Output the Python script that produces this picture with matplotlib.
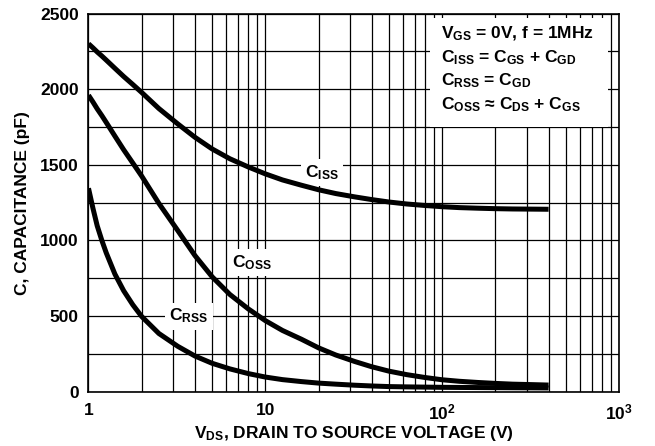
import matplotlib
matplotlib.use("Agg")
import matplotlib.pyplot as plt
from matplotlib.ticker import MultipleLocator, FixedLocator, FixedFormatter, NullFormatter, LogLocator
from matplotlib.patches import Rectangle

# values (pF vs V)
v_ds = [1, 1.06, 1.12, 1.19, 1.26, 1.41, 1.58, 1.78, 2, 2.5, 3.2, 4, 5, 6.3, 8, 10,
        12.5, 16, 20, 25, 32, 40, 50, 63, 80, 100, 125, 160, 200, 250, 320, 400]
c_iss = [2300, 2273, 2246, 2219, 2192, 2138, 2084, 2031, 1978, 1872, 1770, 1682, 1605, 1540, 1486, 1440,
         1400, 1365, 1335, 1310, 1288, 1270, 1254, 1241, 1231, 1223, 1217, 1213, 1210, 1208, 1207, 1206]
c_oss = [1960, 1915, 1870, 1825, 1780, 1690, 1600, 1512, 1425, 1245, 1065, 900, 760, 643, 548, 470,
         405, 347, 290, 243, 200, 165, 136, 113, 94, 79, 69, 61, 55, 50, 47, 44]
c_rss = [1345, 1212, 1097, 1000, 918, 778, 668, 575, 497, 385, 300, 236, 188, 151, 120, 97,
         80, 67, 57, 50, 43, 38, 34, 32, 30.5, 29, 28.2, 27.5, 26.8, 26.2, 25.6, 25]

x_ticks = [1, 10, 100, 1000]
x_labels = ["1", "10", r"10$^{2}$", r"10$^{3}$"]
y_ticks = [0, 500, 1000, 1500, 2000, 2500]

notes = [r"V$_{GS}$ = 0V, f = 1MHz",
         r"C$_{ISS}$ = C$_{GS}$ + C$_{GD}$",
         r"C$_{RSS}$ = C$_{GD}$",
         r"C$_{OSS}$ ≈ C$_{DS}$ + C$_{GS}$"]

plt.rcParams["font.family"] = ["Liberation Sans", "DejaVu Sans"]
plt.rcParams["font.weight"] = "bold"
plt.rcParams["axes.labelweight"] = "bold"
plt.rcParams["mathtext.fontset"] = "custom"
for k in ["rm", "it", "bf", "sf"]:
    plt.rcParams["mathtext." + k] = "Liberation Sans:bold"

fig = plt.figure(figsize=(6.55, 4.46), dpi=100)
ax = fig.add_axes([0.1351, 0.1217, 0.8099, 0.8480])

ax.set_xscale("log")
ax.set_xlim(1, 1000)
ax.set_ylim(0, 2500)
ax.xaxis.set_major_locator(FixedLocator(x_ticks))
ax.xaxis.set_major_formatter(FixedFormatter(x_labels))
ax.xaxis.set_minor_locator(LogLocator(base=10, subs=range(2, 10)))
ax.xaxis.set_minor_formatter(NullFormatter())
ax.yaxis.set_major_locator(FixedLocator(y_ticks))
ax.yaxis.set_minor_locator(MultipleLocator(250))
ax.tick_params(which="both", length=0, labelsize=12.5)
ax.tick_params(axis="x", pad=8)
ax.tick_params(axis="y", pad=7)

ax.set_axisbelow(True)
ax.grid(which="both", color="black", lw=0.9)
for s in ax.spines.values():
    s.set_linewidth(1.2)

# white panel behind the conditions text
ax.add_patch(Rectangle((0.644, 0.700), 0.335, 0.288, transform=ax.transAxes,
                       facecolor="white", edgecolor="none", zorder=1))

for c in (c_iss, c_oss, c_rss):
    ax.plot(v_ds, c, color="black", lw=3.6, solid_capstyle="butt", zorder=3)

lab = dict(ha="center", va="center", fontsize=12.5, zorder=2,
           bbox=dict(facecolor="white", edgecolor="none", pad=3))
ax.text(21, 1450, r"C$_{ISS}$", **lab)
ax.text(8.4, 855, r"C$_{OSS}$", **lab)
ax.text(3.7, 500, r"C$_{RSS}$", **lab)

for i, t in enumerate(notes):
    ax.text(0.6645, 0.935 - i * 0.063, t, transform=ax.transAxes,
            ha="left", va="baseline", fontsize=12.5, zorder=4)

ax.set_xlabel(r"V$_{DS}$, DRAIN TO SOURCE VOLTAGE (V)", fontsize=12.5, labelpad=1)
ax.set_ylabel("C, CAPACITANCE (pF)", fontsize=12.5, labelpad=7)

fig.savefig("out.png", dpi=100)
